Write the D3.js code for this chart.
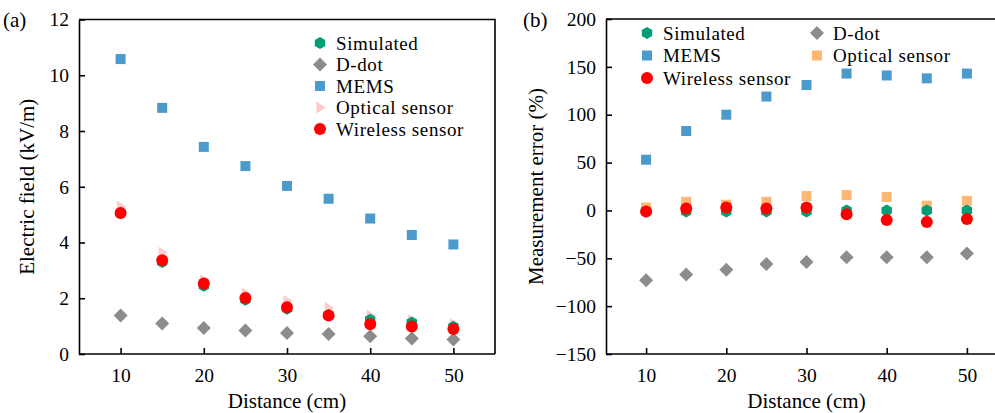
<!DOCTYPE html>
<html>
<head>
<meta charset="utf-8">
<script src="https://cdn.jsdelivr.net/npm/d3@7"></script>
<style>
  body { margin: 0; background: #fff; }
  svg { font-family: "Liberation Serif", "Times New Roman", serif; }
  .axis path, .axis line { stroke: #000; stroke-width: 1.6; }
  .axis text { font-size: 19.5px; fill: #000; font-family: "Liberation Serif", serif; }
  .lab { font-size: 21px; fill: #000; }
  .leg { font-size: 19px; letter-spacing: 0.6px; fill: #000; }
</style>
</head>
<body>
<svg id="chart" width="995" height="413"></svg>
<script>
// 거리 (cm)
var distances = [10, 15, 20, 25, 30, 35, 40, 45, 50];

// (a) 전계 (kV/m)
var fieldSimulated = [5.05, 3.30, 2.45, 1.95, 1.62, 1.40, 1.23, 1.13, 0.98];
var fieldDdot      = [1.38, 1.09, 0.93, 0.84, 0.75, 0.72, 0.64, 0.56, 0.52];
var fieldMems      = [10.58, 8.83, 7.43, 6.74, 6.03, 5.57, 4.86, 4.27, 3.93];
var fieldOptical   = [5.28, 3.63, 2.65, 2.17, 1.90, 1.65, 1.38, 1.21, 1.07];
var fieldWireless  = [5.06, 3.36, 2.53, 2.01, 1.68, 1.38, 1.07, 0.99, 0.90];

// (b) 측정 오차 (%)
var errSimulated = [-1, -1, -1, -1, -1, 0, 0, 0, 0];
var errDdot      = [-73, -67, -62, -56, -54, -49, -49, -49, -45];
var errMems      = [53, 83, 100, 119, 131, 143, 141, 138, 143];
var errOptical   = [3, 9, 6, 9, 15, 16, 14, 5, 10];
var errWireless  = [-1, 2, 3, 2, 3, -4, -10, -12, -9];

var xTicks = [10, 20, 30, 40, 50];
var yTicksA = [0, 2, 4, 6, 8, 10, 12];
var yTicksB = [-150, -100, -50, 0, 50, 100, 150, 200];

var colors = {
  sim: "#009e74",
  ddot: "#8c8c8c",
  mems: "#4a9bcb",
  optA: "#ffcaca",
  optB: "#ffb873",
  wire: "#ff0000"
};

var svg = d3.select("#chart");

// 마커 모양
function hexPath(r) {
  var pts = d3.range(6).map(function(k) {
    var a = -Math.PI / 2 + k * Math.PI / 3;
    return [r * Math.cos(a), r * Math.sin(a)];
  });
  return "M" + pts.join("L") + "Z";
}
function trianglePath(r) {
  return "M" + (-r * 0.6) + "," + (-r) + "L" + (r * 0.95) + ",0L" + (-r * 0.6) + "," + r + "Z";
}
var shapes = {
  hex: hexPath(6),
  diamond: "M0,-7L7,0L0,7L-7,0Z",
  square: "M-5,-5L5,-5L5,5L-5,5Z",
  tri: trianglePath(6),
  circle: d3.symbol().type(d3.symbolCircle).size(Math.PI * 36)()
};

function drawSeries(g, x, y, values, shape, color) {
  g.append("g").selectAll("path")
    .data(values)
    .enter()
    .append("path")
    .attr("d", shapes[shape])
    .attr("fill", color)
    .attr("transform", function(d, i) {
      return "translate(" + x(distances[i]) + "," + y(d) + ")";
    });
}

function legendItem(g, px, py, shape, color, label) {
  g.append("path")
    .attr("d", shapes[shape])
    .attr("fill", color)
    .attr("transform", "translate(" + px + "," + py + ")");
  g.append("text")
    .attr("class", "leg")
    .attr("x", px + 16)
    .attr("y", py + 6.5)
    .text(label);
}

function drawPanel(cfg) {
  var x = d3.scaleLinear().domain([5, 55]).range([cfg.left, cfg.right]);
  var y = d3.scaleLinear().domain(cfg.yDomain).range([cfg.bottom, cfg.top]);

  // 프레임 (위, 오른쪽)
  svg.append("path")
    .attr("d", "M" + cfg.left + "," + cfg.top + "H" + cfg.right + "V" + cfg.bottom)
    .attr("fill", "none")
    .attr("stroke", "#000")
    .attr("stroke-width", 1.6);

  svg.append("g")
    .attr("class", "axis")
    .attr("transform", "translate(0," + cfg.bottom + ")")
    .call(d3.axisBottom(x).tickValues(xTicks).tickSizeInner(-6).tickSizeOuter(0).tickPadding(14))
    .call(function(g) { g.select(".domain").attr("d", "M" + cfg.left + ",0H" + cfg.right); });

  svg.append("g")
    .attr("class", "axis")
    .attr("transform", "translate(" + cfg.left + ",0)")
    .call(d3.axisLeft(y).tickValues(cfg.yTicks).tickSizeInner(-6).tickSizeOuter(0).tickPadding(10));

  svg.append("text")
    .attr("class", "lab")
    .attr("text-anchor", "middle")
    .attr("x", x(30))
    .attr("y", 408)
    .text("Distance (cm)");

  svg.append("text")
    .attr("class", "lab")
    .attr("text-anchor", "middle")
    .attr("transform", "translate(" + cfg.yLabelX + "," + ((cfg.top + cfg.bottom) / 2) + ") rotate(-90)")
    .text(cfg.yLabel);

  svg.append("text")
    .attr("class", "lab")
    .attr("x", cfg.tagX)
    .attr("y", 27)
    .text(cfg.tag);

  var g = svg.append("g");
  cfg.series.forEach(function(s) {
    drawSeries(g, x, y, s.values, s.shape, s.color);
  });

  var lg = svg.append("g");
  cfg.legend.forEach(function(l) {
    legendItem(lg, l.x, l.y, l.shape, l.color, l.label);
  });
}

drawPanel({
  left: 79, right: 495, top: 19.5, bottom: 354,
  yDomain: [0, 12], yTicks: yTicksA,
  yLabel: "Electric field (kV/m)", yLabelX: 34,
  tag: "(a)", tagX: 3,
  series: [
    { values: fieldMems, shape: "square", color: colors.mems },
    { values: fieldDdot, shape: "diamond", color: colors.ddot },
    { values: fieldOptical, shape: "tri", color: colors.optA },
    { values: fieldSimulated, shape: "hex", color: colors.sim },
    { values: fieldWireless, shape: "circle", color: colors.wire }
  ],
  legend: [
    { x: 320, y: 43, shape: "hex", color: colors.sim, label: "Simulated" },
    { x: 320, y: 64.5, shape: "diamond", color: colors.ddot, label: "D-dot" },
    { x: 320, y: 86, shape: "square", color: colors.mems, label: "MEMS" },
    { x: 320, y: 107.5, shape: "tri", color: colors.optA, label: "Optical sensor" },
    { x: 320, y: 129, shape: "circle", color: colors.wire, label: "Wireless sensor" }
  ]
});

drawPanel({
  left: 606, right: 1007, top: 19, bottom: 354,
  yDomain: [-150, 200], yTicks: yTicksB,
  yLabel: "Measurement error (%)", yLabelX: 543,
  tag: "(b)", tagX: 523,
  series: [
    { values: errMems, shape: "square", color: colors.mems },
    { values: errOptical, shape: "square", color: colors.optB },
    { values: errSimulated, shape: "hex", color: colors.sim },
    { values: errWireless, shape: "circle", color: colors.wire },
    { values: errDdot, shape: "diamond", color: colors.ddot }
  ],
  legend: [
    { x: 647, y: 33, shape: "hex", color: colors.sim, label: "Simulated" },
    { x: 817, y: 33, shape: "diamond", color: colors.ddot, label: "D-dot" },
    { x: 647, y: 55.5, shape: "square", color: colors.mems, label: "MEMS" },
    { x: 817, y: 55.5, shape: "square", color: colors.optB, label: "Optical sensor" },
    { x: 647, y: 78, shape: "circle", color: colors.wire, label: "Wireless sensor" }
  ]
});
</script>
</body>
</html>
